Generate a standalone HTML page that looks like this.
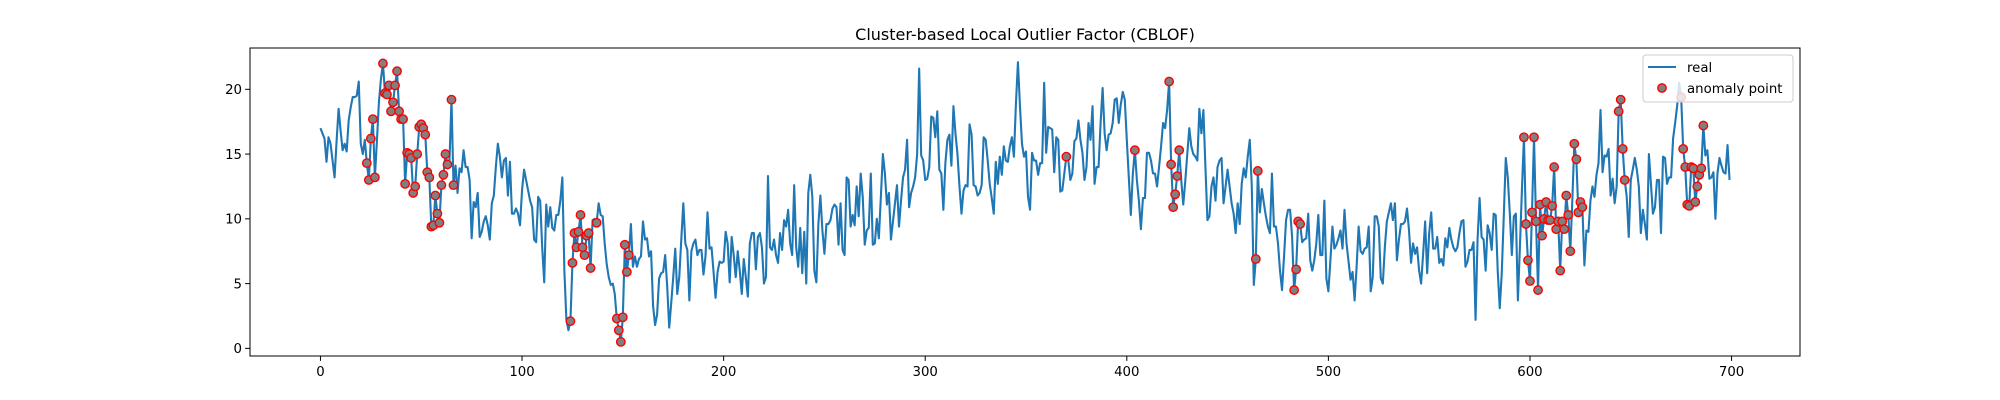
<!DOCTYPE html>
<html><head><meta charset="utf-8"><style>
html,body{margin:0;padding:0;background:#fff;}
svg{display:block;font-family:"DejaVu Sans","Liberation Sans",sans-serif;}
</style></head><body>
<svg id="chart" width="2000" height="400" viewBox="0 0 2000 400" xmlns="http://www.w3.org/2000/svg">
<rect x="0" y="0" width="2000" height="400" fill="#fff"/>
<text x="1025" y="40" text-anchor="middle" font-size="16" fill="#000">Cluster-based Local Outlier Factor (CBLOF)</text>
<g id="plot"></g>
<rect x="250" y="48" width="1550" height="308" fill="none" stroke="#000" stroke-width="1"/>
<g>
<rect x="1643" y="55" width="150" height="47" rx="3" fill="#fff" fill-opacity="0.8" stroke="#ccc" stroke-width="1"/>
<line x1="1648" y1="67" x2="1676" y2="67" stroke="#1f77b4" stroke-width="2"/>
<text x="1687" y="72" font-size="13.3">real</text>
<circle cx="1662" cy="88" r="4.2" fill="#808080" stroke="#ff0000" stroke-width="1.4"/>
<text x="1687" y="93" font-size="13.3">anomaly point</text>
</g>
</svg>
<script>
const values = [
17.0,16.6,16.2,14.4,16.3,15.8,14.5,13.2,16.0,18.5,16.8,15.3,15.8,15.2,17.6,18.6,19.4,19.4,19.5,20.6,15.8,15.0,16.1,14.3,13.0,16.2,17.7,13.2,16.0,19.0,20.8,22.0,19.7,19.6,20.3,18.3,19.0,20.3,21.4,18.3,17.7,17.7,12.7,15.1,15.0,14.7,12.0,12.5,15.0,17.1,
17.3,17.0,16.5,13.6,13.2,9.4,9.5,11.8,10.4,9.7,12.6,13.4,15.0,14.2,14.5,19.2,12.6,14.1,12.0,13.9,13.6,15.3,14.0,14.0,13.0,8.5,11.3,10.9,12.0,8.6,9.0,9.8,10.2,9.5,8.4,11.2,11.8,14.0,15.8,14.8,13.2,14.5,14.7,11.8,14.4,10.4,10.4,10.8,10.4,9.5,
12.2,13.8,13.0,12.2,11.4,10.9,8.4,8.2,11.7,11.4,7.8,5.1,11.1,9.4,10.9,9.3,9.1,10.3,10.3,11.4,13.2,6.0,2.2,1.4,2.1,6.6,8.9,7.8,9.0,10.3,7.8,7.2,8.7,8.9,6.2,9.9,10.0,9.7,11.2,10.3,10.2,8.1,6.5,5.5,4.9,5.0,4.2,2.3,1.4,0.5,
2.4,8.0,5.9,7.2,9.6,6.3,7.1,6.3,6.9,7.1,9.8,8.4,8.5,7.1,7.5,3.3,1.8,2.6,5.4,5.8,5.9,7.2,4.8,1.6,3.5,5.5,7.7,4.2,5.5,8.4,11.2,8.1,7.6,3.7,7.5,8.1,8.4,7.2,7.6,7.6,5.7,7.1,10.5,7.7,7.8,5.9,3.9,5.9,6.7,6.6,
6.7,9.0,8.1,5.1,8.6,7.2,5.5,7.5,6.0,4.2,6.9,5.5,4.0,8.1,8.9,8.9,6.1,8.6,8.9,7.8,5.0,5.5,13.3,7.8,7.6,8.4,7.2,6.6,8.9,7.6,9.9,9.4,10.7,8.1,7.2,12.6,7.8,6.3,9.3,5.8,9.0,5.0,12.0,13.4,11.7,6.0,5.1,9.6,11.8,9.1,
7.3,9.6,9.6,9.9,10.8,11.1,10.9,8.0,11.2,7.6,7.2,13.2,13.0,9.4,10.3,9.5,12.5,10.2,13.5,11.7,8.0,9.1,9.3,13.5,8.0,8.1,10.0,8.5,11.7,15.0,13.5,11.1,12.0,8.4,9.8,11.2,12.6,9.4,11.4,13.2,13.8,16.1,10.9,12.0,12.5,13.2,15.0,21.6,14.9,14.5,
13.0,13.1,14.0,17.9,17.8,16.3,18.3,13.8,13.5,10.7,14.3,16.1,16.5,14.1,18.7,16.6,15.0,12.5,10.4,12.2,12.6,12.5,17.3,16.5,12.6,12.5,11.8,12.0,12.6,16.3,16.1,14.5,12.7,11.6,10.4,14.4,12.7,14.8,13.4,15.6,14.5,14.4,15.6,16.3,14.8,18.9,22.1,18.7,15.8,14.8,
15.2,11.7,10.7,15.1,14.5,14.5,13.4,14.3,14.3,20.5,15.1,17.1,17.0,16.9,13.6,16.3,16.1,12.1,12.2,13.5,14.8,14.5,13.0,13.5,16.0,16.2,17.6,16.1,15.1,13.0,14.0,17.4,16.1,18.7,12.7,14.0,14.0,17.4,20.1,16.6,15.3,16.5,16.6,17.4,19.2,19.3,17.4,18.8,19.8,19.2,
16.1,13.2,10.3,13.5,15.3,13.0,11.4,9.2,11.6,11.6,15.1,15.1,14.5,13.5,13.5,12.5,14.0,15.6,17.4,17.0,18.4,20.6,14.2,10.9,11.9,13.3,15.3,13.0,11.1,12.9,15.0,17.0,15.6,15.0,14.8,14.5,18.5,16.6,18.4,14.0,9.9,10.2,12.5,13.2,11.4,14.0,14.5,14.7,11.2,12.5,
13.8,12.5,11.2,10.4,8.9,11.2,9.6,12.7,13.9,13.2,14.8,16.1,12.5,4.9,6.9,13.7,10.5,12.3,11.2,10.2,9.4,8.9,13.5,9.4,9.4,8.1,6.0,4.5,7.1,9.9,10.7,10.7,8.6,4.5,6.1,9.8,9.6,8.2,8.4,8.5,10.4,6.8,6.0,6.8,8.1,10.3,7.2,7.2,11.4,5.4,
4.4,6.8,9.4,7.7,8.0,8.5,9.1,7.7,10.7,8.1,6.7,5.3,5.9,3.7,6.3,9.4,7.5,7.3,7.7,7.8,9.4,4.4,5.5,10.2,10.2,9.4,5.4,5.0,7.8,9.8,10.5,11.2,9.9,11.2,6.8,8.4,9.6,9.6,9.8,10.8,9.1,6.6,8.1,7.3,7.8,6.0,5.0,7.3,9.8,5.8,
8.9,10.5,7.7,7.7,8.6,6.6,6.9,6.4,8.5,7.8,9.3,8.4,7.8,7.5,7.8,8.9,9.8,9.9,6.3,6.7,7.6,7.6,8.2,2.2,8.4,11.6,8.6,8.4,6.0,9.5,8.9,7.6,10.4,10.3,6.0,3.1,5.8,10.2,14.7,13.2,10.4,7.2,10.2,10.4,3.7,7.8,12.2,16.3,9.6,6.8,
5.2,10.5,16.3,9.8,4.5,11.1,8.7,10.0,11.3,9.9,9.9,11.0,14.0,9.2,9.8,6.0,9.8,9.2,11.8,10.3,7.5,11.4,15.8,14.6,10.5,11.3,10.9,6.4,9.1,9.0,11.4,12.5,11.7,13.4,14.3,18.4,13.6,14.9,14.8,15.4,11.8,13.1,11.2,12.5,18.3,19.2,15.4,13.0,11.7,8.6,
13.0,13.8,14.7,13.8,12.5,8.9,10.7,9.6,8.4,15.0,12.7,10.4,10.9,13.0,13.0,8.9,14.8,14.7,12.7,13.2,13.2,16.2,17.4,18.7,20.5,19.4,15.4,14.0,11.1,11.0,14.0,13.9,11.3,12.5,13.4,13.9,17.2,14.9,15.3,13.1,13.2,13.6,10.0,13.5,14.7,14.1,13.6,13.5,15.7,13.0
];
const anomalyRanges = [[23,27],[31,63],[65,66],[124,134],[137,137],[147,153],[370,370],[404,404],[421,426],[464,465],[483,486],[597,620],[622,626],[644,647],[675,686]];
const xTicks = [0,100,200,300,400,500,600,700];
const yTicks = [0,5,10,15,20];

const X0=250, X1=1800, Y0=48, Y1=356;
const xMin=-34.95, xMax=733.95, yMin=-0.59, yMax=23.19;
function sx(i){return X0+(i-xMin)/(xMax-xMin)*(X1-X0);}
function sy(v){return Y1-(v-yMin)/(yMax-yMin)*(Y1-Y0);}
const NS="http://www.w3.org/2000/svg";
const plot=document.getElementById('plot');
function mk(tag,attrs){const e=document.createElementNS(NS,tag);for(const k in attrs)e.setAttribute(k,attrs[k]);return e;}

const tickSpecs=[];
xTicks.forEach(t=>tickSpecs.push({axis:'x',t:t,line:{x1:sx(t),x2:sx(t),y1:Y1,y2:Y1+4.9},label:{x:sx(t),y:Y1+20,'text-anchor':'middle'}}));
yTicks.forEach(t=>tickSpecs.push({axis:'y',t:t,line:{x1:X0-4.9,x2:X0,y1:sy(t),y2:sy(t)},label:{x:X0-8,y:sy(t)+4.8,'text-anchor':'end'}}));
tickSpecs.forEach(s=>{
  const ln=mk('line',Object.assign({stroke:'#000','stroke-width':1},s.line));
  
  
  plot.appendChild(ln);
  const tx=mk('text',Object.assign({'font-size':13.3},s.label));
  
  
  tx.textContent=s.t;
  plot.appendChild(tx);
});

let d='';
values.forEach((v,i)=>{d+=(i?'L':'M')+sx(i).toFixed(2)+','+sy(v).toFixed(2);});
const path=mk('path',{d:d,fill:'none',stroke:'#1f77b4','stroke-width':2.1,'stroke-linejoin':'round'});


plot.appendChild(path);

anomalyRanges.forEach(r=>{
  for(let i=r[0];i<=r[1];i++){
    const c=mk('circle',{cx:sx(i),cy:sy(values[i]),r:4.2,fill:'#808080',stroke:'#ff0000','stroke-width':1.4});
    
    
    plot.appendChild(c);
  }
});
</script>
</body></html>
